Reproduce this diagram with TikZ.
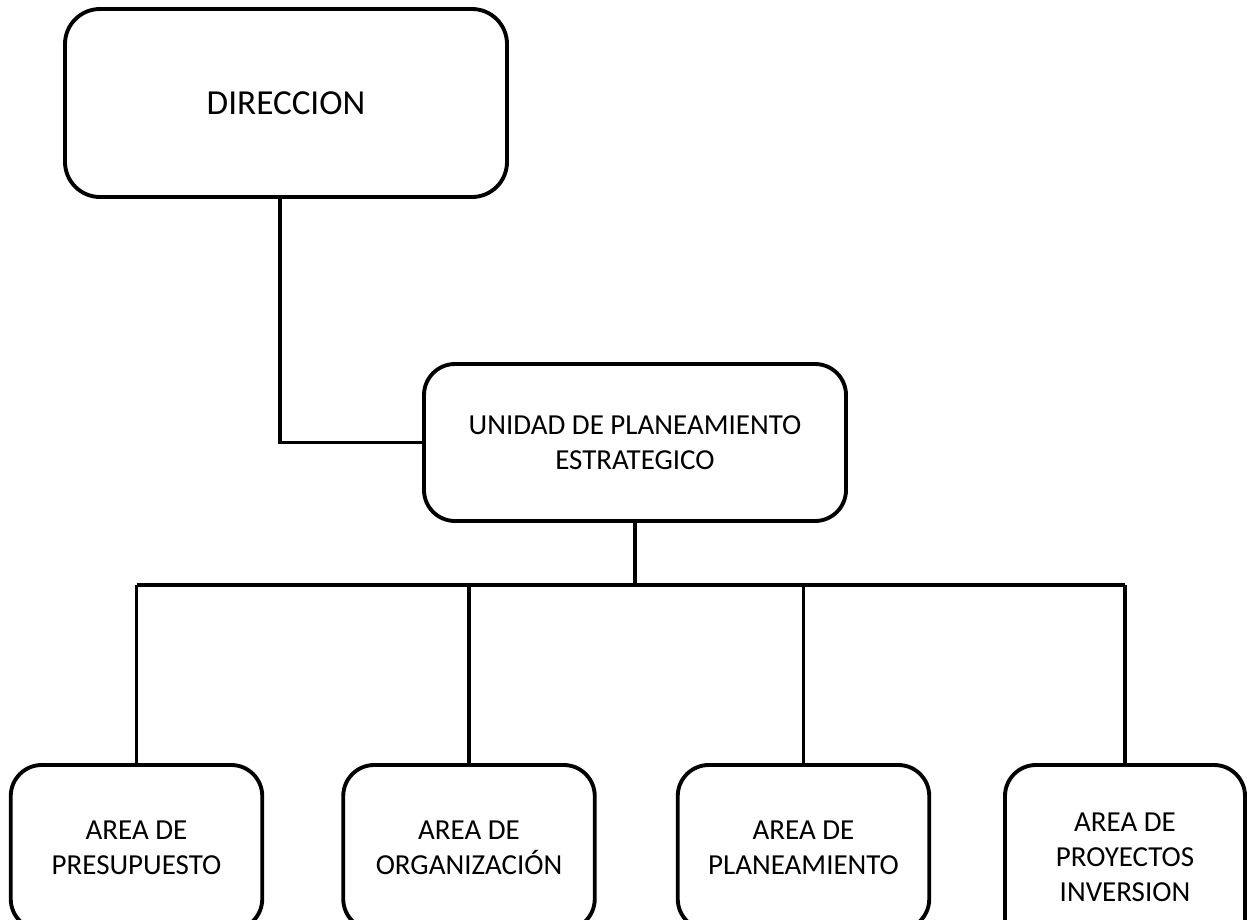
\documentclass[tikz,border=0pt]{standalone}
\usepackage{fontspec}
\setmainfont{Carlito}
\usepackage{tikz}
\usetikzlibrary{arrows.meta,positioning,calc}

\begin{document}
\begin{tikzpicture}[
  every node/.style={align=center},
  box/.style={draw, line width=2.2pt, rounded corners=0.62cm, fill=white,
              font=\fontsize{16.5}{20}\selectfont},
  topbox/.style={box, minimum width=8.84cm, minimum height=3.76cm,
                 rounded corners=0.7cm, font=\fontsize{20}{24}\selectfont},
  midbox/.style={box, minimum width=8.44cm, minimum height=3.14cm},
  areabox/.style={box, minimum width=5.03cm, minimum height=3.3cm},
  conn/.style={line width=2pt}
]
\useasboundingbox (0,0) rectangle (24.96,-18.38);
\clip (0,0) rectangle (24.96,-18.38);

%% Top level
\node[topbox] (dir) at (5.72,-2.06) {DIRECCION};

%% Second level
\node[midbox] (upe) at (12.7,-8.85) {UNIDAD DE PLANEAMIENTO\\ESTRATEGICO};

%% Areas (bottom row, cut by page edge)
\node[areabox] (pre) at (2.73,-16.95)  {AREA DE\\PRESUPUESTO};
\node[areabox] (org) at (9.38,-16.95)  {AREA DE\\ORGANIZACIÓN};
\node[areabox] (pla) at (16.07,-16.95) {AREA DE\\PLANEAMIENTO};
\node[areabox, minimum width=4.8cm, minimum height=3.7cm]
      (pro) at (22.5,-17.15) {AREA DE\\PROYECTOS\\INVERSION};

%% Connectors
\coordinate (bus) at (12.78,-11.7);
\draw[conn] ([xshift=-0.12cm]dir.south) |- (upe.west);
\draw[conn] (upe.south |- upe.south) -- (upe.south |- bus);
\draw[conn] (bus -| pre.north) -- (bus -| pro.north);
\foreach \n in {pre,org,pla,pro}
  \draw[conn] (bus -| \n.north) -- (\n.north);

\end{tikzpicture}
\end{document}
